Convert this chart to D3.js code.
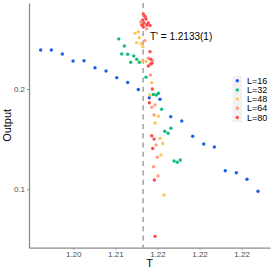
<!DOCTYPE html>
<html>
<head>
<meta charset="utf-8">
<script src="https://cdn.jsdelivr.net/npm/d3@7"></script>
<style>
  body { margin: 0; background: #fff; }
  text { font-family: "Liberation Sans", Arial, sans-serif; }
</style>
</head>
<body>
<div class="chart"></div>
<script>
// series names and colours
var seriesNames = ["L=16", "L=32", "L=48", "L=64", "L=80"];
var seriesColors = ["#1A5FE8", "#10BE7A", "#FFC65C", "#FF9E80", "#FF4B4B"];

// [T, Output]
var L16 = [[1.20114,0.2389],[1.20240,0.2389],[1.20371,0.2349],[1.20498,0.2279],[1.20628,0.2282],
  [1.20759,0.2212],[1.20890,0.2179],[1.21017,0.2113],[1.21147,0.2065],[1.21273,0.1995],
  [1.21404,0.1913],[1.21531,0.1897],[1.21658,0.1724],[1.21789,0.1681],[1.21919,0.1529],
  [1.22050,0.1452],[1.22176,0.1422],[1.22306,0.1185],[1.22437,0.1165],[1.22564,0.1100],
  [1.22695,0.0980]];
var L32 = [[1.21041,0.2499],[1.21107,0.2429],[1.21076,0.2349],[1.21147,0.2346],[1.21219,0.2329],
  [1.21183,0.2266],[1.21254,0.2296],[1.21285,0.2266],[1.21365,0.2118],[1.21452,0.1945],
  [1.21487,0.1940],[1.21513,0.1957],[1.21550,0.1798],[1.21660,0.1608],[1.21587,0.1579],
  [1.21626,0.1559],[1.21698,0.1282],[1.21736,0.1269],[1.21772,0.1292]];
var L48 = [[1.21234,0.2555],[1.21273,0.2571],[1.21285,0.2511],[1.21254,0.2462],[1.21306,0.2454],
  [1.21326,0.2424],[1.21317,0.2279],[1.21365,0.2274],[1.21433,0.2063],[1.21412,0.1940],
  [1.21511,0.1728],[1.21472,0.1661],[1.21531,0.1508],[1.21563,0.1457],[1.21543,0.1342],
  [1.21579,0.0943]];
var L64 = [[1.21300,0.2668],[1.21371,0.2598],[1.21353,0.2482],[1.21392,0.2306],[1.21444,0.2282],
  [1.21418,0.2140],[1.21472,0.1840],[1.21433,0.1818],[1.21460,0.1741],[1.21484,0.1442],
  [1.21499,0.1319],[1.21454,0.1225],[1.21507,0.1133]];
var L80 = [[1.21333,0.2748],[1.21353,0.2723],[1.21365,0.2698],[1.21326,0.2688],[1.21341,0.2658],
  [1.21314,0.2638],[1.21373,0.2638],[1.21392,0.2658],[1.21412,0.2633],[1.21333,0.2618],
  [1.21412,0.2372],[1.21421,0.2296],[1.21433,0.2256],[1.21392,0.2229],[1.21421,0.2249],
  [1.21440,0.2000],[1.21404,0.1863],[1.21433,0.1534],[1.21460,0.1501],[1.21444,0.1407],
  [1.21464,0.1093],[1.21472,0.0531]];
var allSeries = [L16, L32, L48, L64, L80];

// axes
var xTicks = [1.205, 1.21, 1.215, 1.22, 1.225];
var xTickLabels = ["1.20", "1.21", "1.22", "1.22", "1.22"];
var yTicks = [0.1, 0.2];
var yTickLabels = ["0.1", "0.2"];

var tStar = 1.2133;
var tStarLabel = "T' = 1.2133(1)";

var width = 273, height = 273;
var margin = {top: 3, right: 3, bottom: 25.3, left: 29};

var svg = d3.select(".chart").append("svg")
  .attr("width", width)
  .attr("height", height);

var x = d3.scaleLinear().domain([1.19975, 1.22837]).range([margin.left, width - margin.right]);
var y = d3.scaleLinear().domain([0.0418, 0.2857]).range([height - margin.bottom, margin.top]);

// dashed critical line
svg.append("line")
  .attr("x1", x(tStar)).attr("x2", x(tStar))
  .attr("y1", margin.top).attr("y2", height - margin.bottom)
  .attr("stroke", "#7f7f7f")
  .attr("stroke-width", 1.1)
  .attr("stroke-dasharray", "5,4.3");

// points
allSeries.forEach(function(data, i) {
  svg.append("g").selectAll("circle").data(data)
    .enter().append("circle")
      .attr("cx", function(d) { return x(d[0]); })
      .attr("cy", function(d) { return y(d[1]); })
      .attr("r", 1.7)
      .attr("fill", seriesColors[i]);
});

// axes
var xAxis = svg.append("g")
  .attr("transform", "translate(0," + (height - margin.bottom) + ")")
  .call(d3.axisBottom(x).tickValues(xTicks)
    .tickFormat(function(d, i) { return xTickLabels[i]; })
    .tickSize(2).tickPadding(2).tickSizeOuter(0));
var yAxis = svg.append("g")
  .attr("transform", "translate(" + margin.left + ",0)")
  .call(d3.axisLeft(y).tickValues(yTicks)
    .tickFormat(function(d, i) { return yTickLabels[i]; })
    .tickSize(2).tickPadding(2).tickSizeOuter(0));

[xAxis, yAxis].forEach(function(a) {
  a.select(".domain").attr("stroke", "#8c8c8c").attr("stroke-width", 1.3);
  a.selectAll(".tick line").attr("stroke", "#8c8c8c");
  a.selectAll(".tick text").attr("fill", "#4d4d4d").style("font-size", "8px");
});

// axis titles
svg.append("text")
  .attr("x", (margin.left + width - margin.right) / 2)
  .attr("y", 267)
  .attr("text-anchor", "middle")
  .style("font-size", "11px")
  .text("T");
svg.append("text")
  .attr("transform", "translate(11," + ((margin.top + height - margin.bottom) / 2) + ") rotate(-90)")
  .attr("text-anchor", "middle")
  .style("font-size", "11px")
  .text("Output");

// annotation
svg.append("text")
  .attr("x", 150)
  .attr("y", 39.5)
  .style("font-size", "10px")
  .text(tStarLabel);

// legend
var legend = svg.append("g").attr("transform", "translate(232.5,76)");
legend.append("rect")
  .attr("width", 9.5).attr("height", 46)
  .attr("fill", "#f2f2f2");
var item = legend.selectAll(".item").data(seriesNames)
  .enter().append("g")
    .attr("transform", function(d, i) { return "translate(0," + (4.7 + i * 9.2) + ")"; });
item.append("circle")
  .attr("cx", 4.8).attr("r", 1.7)
  .attr("fill", function(d, i) { return seriesColors[i]; });
item.append("text")
  .attr("x", 14.5).attr("dy", "0.35em")
  .style("font-size", "9px")
  .text(function(d) { return d; });
</script>
</body>
</html>
